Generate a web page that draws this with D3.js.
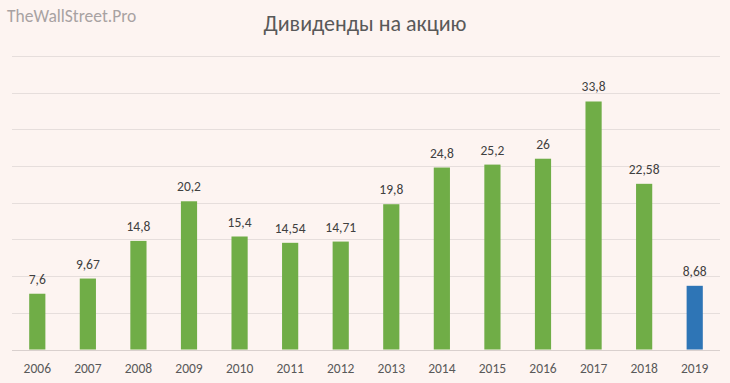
<!DOCTYPE html>
<html><head><meta charset="utf-8">
<script src="https://cdn.jsdelivr.net/npm/d3@7"></script>
<style>
html,body{margin:0;padding:0;background:#fdf4f1;}
svg{display:block;font-family:Calibri,Carlito,Lato,"Open Sans",sans-serif;}
</style></head>
<body>
<svg id="chart" width="730" height="383"></svg>
<script>
const years = ["2006","2007","2008","2009","2010","2011","2012","2013","2014","2015","2016","2017","2018","2019"];
const values = [7.6, 9.67, 14.8, 20.2, 15.4, 14.54, 14.71, 19.8, 24.8, 25.2, 26, 33.8, 22.58, 8.68];
const labels = ["7,6","9,67","14,8","20,2","15,4","14,54","14,71","19,8","24,8","25,2","26","33,8","22,58","8,68"];
const gridTicks = [0,5,10,15,20,25,30,35,40];

const svg = d3.select("#chart");
const W = 730, H = 383;
const m = {left:12, right:10, top:56, bottom:33.5};

svg.append("rect").attr("width",W).attr("height",H).attr("fill","#fdf4f1");

const x = d3.scaleBand().domain(years).range([m.left, W-m.right]).paddingInner(0.68).paddingOuter(0.34);
const y = d3.scaleLinear().domain([0,40]).range([H-m.bottom, m.top]);

svg.append("g").selectAll("line").data(gridTicks).join("line")
  .attr("x1", m.left).attr("x2", W-m.right)
  .attr("y1", d=>Math.round(y(d))+0.5).attr("y2", d=>Math.round(y(d))+0.5)
  .attr("stroke", d=> d===0 ? "#d9d0ce" : "#e6dedc").attr("stroke-width",1);

svg.append("g").selectAll("rect").data(years).join("rect")
  .attr("x", d=>x(d)).attr("width", x.bandwidth())
  .attr("y", (d,i)=>y(values[i])).attr("height",(d,i)=>y(0)-y(values[i]))
  .attr("fill",(d,i)=> i===years.length-1 ? "#2e75b6" : "#70ad47");

svg.append("g").selectAll("text").data(years).join("text")
  .attr("x", d=>x(d)+x.bandwidth()/2).attr("y",(d,i)=>y(values[i])-10)
  .attr("text-anchor","middle").attr("font-size",13.5).attr("fill","#404040")
  .text((d,i)=>labels[i]);

const xAxis = d3.axisBottom(x).tickSize(0).tickPadding(0);
const gx = svg.append("g").attr("transform",`translate(0,${H-m.bottom})`).call(xAxis);
gx.select(".domain").remove();
gx.selectAll("text").attr("font-size",13.5).attr("fill","#595959")
  .attr("font-family","Calibri,Carlito,Lato,'Open Sans',sans-serif")
  .attr("dy",null).attr("y",23.5);

svg.append("text").attr("x",W/2).attr("y",31).attr("text-anchor","middle")
  .attr("font-size",22).attr("fill","#595959").text("Дивиденды на акцию");

svg.append("text").attr("x",7).attr("y",22).attr("font-size",17.5)
  .attr("fill","#a8a2a2").text("TheWallStreet.Pro");
</script>
</body></html>
